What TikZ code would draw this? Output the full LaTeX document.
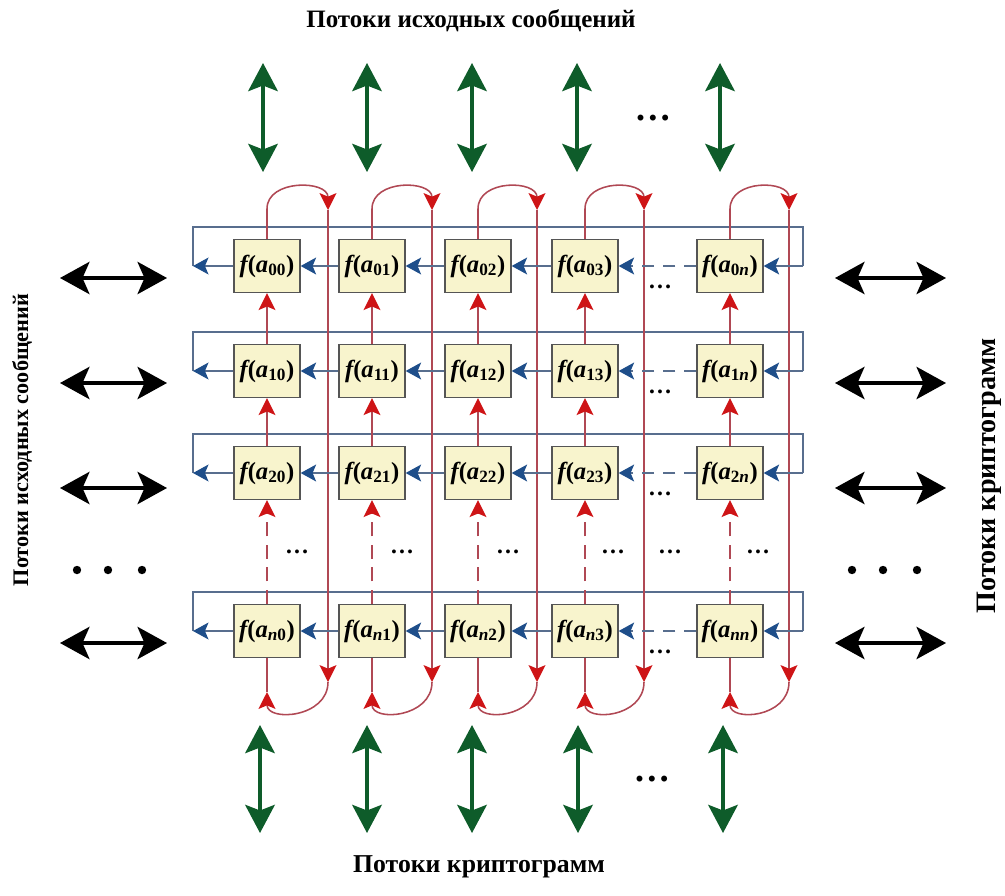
\documentclass[tikz,border=0pt]{standalone}
\usepackage{fontspec}
\setmainfont{Liberation Serif}
\usetikzlibrary{arrows.meta}

\definecolor{boxfill}{RGB}{248,244,205}
\definecolor{boxline}{RGB}{85,85,85}
\definecolor{redline}{RGB}{176,72,84}
\definecolor{redhead}{RGB}{206,20,22}
\definecolor{blueline}{RGB}{88,110,142}
\definecolor{bluehead}{RGB}{30,78,138}
\definecolor{flowgreen}{RGB}{14,92,42}

\newcommand{\fa}[1]{{\bfseries\itshape f}{\bfseries(\textit{a}\textsubscript{#1})}}

\tikzset{
  cell/.style={draw=boxline,fill=boxfill,line width=0.9pt,inner sep=0pt,
    minimum width=1.65cm,minimum height=1.325cm,font=\fontsize{17.5}{20}\selectfont},
  redarr/.style={draw=redline,line width=1.1pt,
    -{Stealth[length=12pt,width=12pt,inset=2.5pt,color=redhead]}},
  bluearr/.style={draw=blueline,line width=1.1pt,
    -{Stealth[length=11pt,width=12pt,inset=2.5pt,color=bluehead]}},
  greenflow/.style={draw=flowgreen,line width=2.6pt,
    {Stealth[length=20pt,width=21pt,inset=4pt]}-{Stealth[length=20pt,width=21pt,inset=4pt]}},
  blackflow/.style={draw=black,line width=2.2pt,
    {Stealth[length=21pt,width=23pt,inset=5pt]}-{Stealth[length=21pt,width=23pt,inset=5pt]}},
  title/.style={font=\fontsize{17.8}{22}\selectfont\bfseries},
  smalldots/.style={font=\fontsize{17}{17}\selectfont\bfseries,inner sep=0pt},
  bigdots/.style={font=\fontsize{26}{26}\selectfont\bfseries,inner sep=0pt}
}

\begin{document}
\begin{tikzpicture}[x=0.025cm,y=-0.025cm]
      \useasboundingbox (0,0) rectangle (1005,895);

      \begin{scope}[every node/.style={cell}]
        \node (00) at (267,266) {\fa{00}};
        \node (01) at (372,266) {\fa{01}};
        \node (02) at (478,266) {\fa{02}};
        \node (03) at (585,266) {\fa{03}};
        \node (0n) at (730,266) {\fa{0\textit{n}}};
        \node (10) at (267,371) {\fa{10}};
        \node (11) at (372,371) {\fa{11}};
        \node (12) at (478,371) {\fa{12}};
        \node (13) at (585,371) {\fa{13}};
        \node (1n) at (730,371) {\fa{1\textit{n}}};
        \node (20) at (267,473) {\fa{20}};
        \node (21) at (372,473) {\fa{21}};
        \node (22) at (478,473) {\fa{22}};
        \node (23) at (585,473) {\fa{23}};
        \node (2n) at (730,473) {\fa{2\textit{n}}};
        \node (n0) at (267,631) {\fa{\textit{n}0}};
        \node (n1) at (372,631) {\fa{\textit{n}1}};
        \node (n2) at (478,631) {\fa{\textit{n}2}};
        \node (n3) at (585,631) {\fa{\textit{n}3}};
        \node (nn) at (730,631) {\fa{\textit{nn}}};
      \end{scope}

      % ends of the row loops
      \coordinate (w0) at (193,266); \coordinate (e0) at (803,266);
      \coordinate (w1) at (193,371); \coordinate (e1) at (803,371);
      \coordinate (w2) at (193,473); \coordinate (e2) at (803,473);
      \coordinate (wn) at (193,631); \coordinate (en) at (803,631);

      % ends of the column loops
      \coordinate (t0) at (328,210); \coordinate (b0) at (328,682); \coordinate (c0) at (267,692);
      \coordinate (t1) at (432,210); \coordinate (b1) at (432,682); \coordinate (c1) at (372,692);
      \coordinate (t2) at (537,210); \coordinate (b2) at (537,682); \coordinate (c2) at (478,692);
      \coordinate (t3) at (644,210); \coordinate (b3) at (644,682); \coordinate (c3) at (585,692);
      \coordinate (tn) at (789,210); \coordinate (bn) at (789,682); \coordinate (cn) at (730,692);

      % rows
      \draw[blueline,line width=1.1pt] (w0) -- ++(0,-39) -| (e0);
      \draw[blueline,line width=1.1pt] (w1) -- ++(0,-39) -| (e1);
      \draw[blueline,line width=1.1pt] (w2) -- ++(0,-39) -| (e2);
      \draw[blueline,line width=1.1pt] (wn) -- ++(0,-39) -| (en);

      % columns
      \draw[redarr] (00.north) -- ++(0,-30) .. controls +(0,-30) and +(0,-30) .. (t0);
      \draw[redarr] (01.north) -- ++(0,-30) .. controls +(0,-30) and +(0,-30) .. (t1);
      \draw[redarr] (02.north) -- ++(0,-30) .. controls +(0,-30) and +(0,-30) .. (t2);
      \draw[redarr] (03.north) -- ++(0,-30) .. controls +(0,-30) and +(0,-30) .. (t3);
      \draw[redarr] (0n.north) -- ++(0,-30) .. controls +(0,-30) and +(0,-30) .. (tn);
      \draw[redarr] (b0) .. controls +(0,36) and +(0,30) .. (c0);
      \draw[redarr] (b1) .. controls +(0,36) and +(0,30) .. (c1);
      \draw[redarr] (b2) .. controls +(0,36) and +(0,30) .. (c2);
      \draw[redarr] (b3) .. controls +(0,36) and +(0,30) .. (c3);
      \draw[redarr] (bn) .. controls +(0,36) and +(0,30) .. (cn);

      \begin{scope}[every edge/.style={redarr}]
        \path (t0) edge (b0);  \path (t1) edge (b1);  \path (t2) edge (b2);
        \path (t3) edge (b3);  \path (tn) edge (bn);
        \path (10) edge (00);  \path (11) edge (01);  \path (12) edge (02);
        \path (13) edge (03);  \path (1n) edge (0n);
        \path (20) edge (10);  \path (21) edge (11);  \path (22) edge (12);
        \path (23) edge (13);  \path (2n) edge (1n);
      \end{scope}
      \begin{scope}[every edge/.style={redarr,dash pattern=on 10pt off 6pt}]
        \path (n0) edge (20);  \path (n1) edge (21);  \path (n2) edge (22);
        \path (n3) edge (23);  \path (nn) edge (2n);
      \end{scope}
      \begin{scope}[every edge/.style={draw=redline,line width=1.1pt}]
        \path (c0) edge (n0);  \path (c1) edge (n1);  \path (c2) edge (n2);
        \path (c3) edge (n3);  \path (cn) edge (nn);
      \end{scope}

      \begin{scope}[every edge/.style={bluearr}]
        \path (00) edge (w0);  \path (01) edge (00);  \path (02) edge (01);
        \path (03) edge (02);  \path (e0) edge (0n);
        \path (10) edge (w1);  \path (11) edge (10);  \path (12) edge (11);
        \path (13) edge (12);  \path (e1) edge (1n);
        \path (20) edge (w2);  \path (21) edge (20);  \path (22) edge (21);
        \path (23) edge (22);  \path (e2) edge (2n);
        \path (n0) edge (wn);  \path (n1) edge (n0);  \path (n2) edge (n1);
        \path (n3) edge (n2);  \path (en) edge (nn);
      \end{scope}
      \begin{scope}[every edge/.style={bluearr,dash pattern=on 9pt off 6pt}]
        \path (0n) edge (03);  \path (1n) edge (13);
        \path (2n) edge (23);  \path (nn) edge (n3);
      \end{scope}

      % dots inside the grid
      \begin{scope}[every node/.style={smalldots}]
        \node (d0) at (660,287) {\ldots};
        \node (d1) at (660,392) {\ldots};
        \node (d2) at (660,494) {\ldots};
        \node (dn) at (660,652) {\ldots};
        \node (g0) at (297,552) {\ldots};
        \node (g1) at (402,552) {\ldots};
        \node (g2) at (508,552) {\ldots};
        \node (g3) at (613,552) {\ldots};
        \node (g4) at (670,552) {\ldots};
        \node (g5) at (758,552) {\ldots};
      \end{scope}

      % message flows
      \coordinate (ua0) at (263,63);  \coordinate (ub0) at (263,172);
      \coordinate (ua1) at (367,63);  \coordinate (ub1) at (367,172);
      \coordinate (ua2) at (472,63);  \coordinate (ub2) at (472,172);
      \coordinate (ua3) at (577,63);  \coordinate (ub3) at (577,172);
      \coordinate (uan) at (720,63);  \coordinate (ubn) at (720,172);
      \coordinate (da0) at (260,725); \coordinate (db0) at (260,833);
      \coordinate (da1) at (367,725); \coordinate (db1) at (367,833);
      \coordinate (da2) at (472,725); \coordinate (db2) at (472,833);
      \coordinate (da3) at (578,725); \coordinate (db3) at (578,833);
      \coordinate (dan) at (723,725); \coordinate (dbn) at (723,833);
      \begin{scope}[every edge/.style={greenflow}]
        \path (ua0) edge (ub0);  \path (ua1) edge (ub1);  \path (ua2) edge (ub2);
        \path (ua3) edge (ub3);  \path (uan) edge (ubn);
        \path (da0) edge (db0);  \path (da1) edge (db1);  \path (da2) edge (db2);
        \path (da3) edge (db3);  \path (dan) edge (dbn);
      \end{scope}
      \node[bigdots] (utop) at (653,118) {\ldots};
      \node[bigdots] (ubot) at (652,779) {\ldots};

      \coordinate (la0) at (60,278);  \coordinate (lb0) at (167,278);
      \coordinate (la1) at (60,383);  \coordinate (lb1) at (167,383);
      \coordinate (la2) at (60,488);  \coordinate (lb2) at (167,488);
      \coordinate (lan) at (60,643);  \coordinate (lbn) at (167,643);
      \coordinate (ra0) at (835,278); \coordinate (rb0) at (946,278);
      \coordinate (ra1) at (835,383); \coordinate (rb1) at (946,383);
      \coordinate (ra2) at (835,488); \coordinate (rb2) at (946,488);
      \coordinate (ran) at (835,643); \coordinate (rbn) at (946,643);
      \begin{scope}[every edge/.style={blackflow}]
        \path (la0) edge (lb0);  \path (la1) edge (lb1);
        \path (la2) edge (lb2);  \path (lan) edge (lbn);
        \path (ra0) edge (rb0);  \path (ra1) edge (rb1);
        \path (ra2) edge (rb2);  \path (ran) edge (rbn);
      \end{scope}
      \fill (77,570) circle (4.2);  \fill (108,570) circle (4.2);  \fill (142,570) circle (4.2);
      \fill (852,570) circle (4.2); \fill (883,570) circle (4.2); \fill (917,570) circle (4.2);

      \node[title] (toptitle) at (471,21) {Потоки исходных сообщений};
      \node[title,font=\fontsize{18.3}{22}\selectfont\bfseries] (bottomtitle) at (479,867) {Потоки криптограмм};
      \node[title,rotate=90,font=\fontsize{15.8}{20}\selectfont\bfseries] (lefttitle) at (22,440) {Потоки исходных сообщений};
      \node[title,rotate=90,font=\fontsize{20}{22}\selectfont\bfseries] (righttitle) at (989,476) {Потоки криптограмм};

    \end{tikzpicture}
\end{document}
